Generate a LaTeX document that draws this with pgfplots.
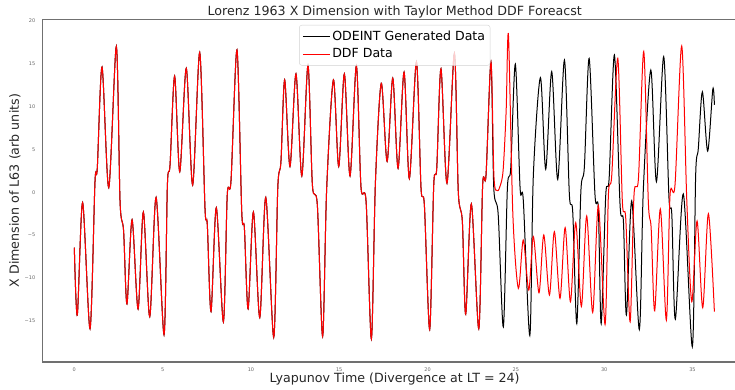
\documentclass[border=0pt]{standalone}
\usepackage{pgfplots}
\pgfplotsset{compat=1.18}
\usepackage{fontspec}
\setmainfont{DejaVu Sans}
\definecolor{spine}{HTML}{707070}
\definecolor{ticklab}{HTML}{666666}
\begin{document}
\begin{tikzpicture}
\begin{axis}[name=ax, scale only axis, width=704bp, height=342.7bp,
 xmin=-1.79, xmax=38.07, ymin=-19.78, ymax=20.16,
 xtick={0,5,...,35}, xticklabels={0,5,10,15,20,25,30,35},
 ytick={-15,-10,...,20}, yticklabels={−15,−10,−5,0,5,10,15,20},
 major tick length=0pt,
 axis line style={draw=spine, line width=1.1bp},
 tick label style={font=\fontsize{5}{6}\selectfont, text=ticklab},
 xticklabel style={yshift=-2bp},
 yticklabel style={xshift=-4bp},
 title={Lorenz 1963 X Dimension with Taylor Method DDF Foreacst},
 every axis title/.style={at={(axis description cs:0.5,1.0105)}, anchor=base, font=\fontsize{12.7}{14}\selectfont, text=black!85},
 xlabel={Lyapunov Time (Divergence at LT = 24)},
 xlabel style={at={(axis description cs:0.5,-0.0598)}, anchor=base, font=\fontsize{12.7}{14}\selectfont, text=black!85},
 ylabel={X Dimension of L63 (arb units)},
 ylabel style={at={(axis description cs:-0.034,0.5)}, anchor=base, font=\fontsize{12.7}{14}\selectfont, text=black!85},
 legend style={at={(axis description cs:0.5,0.9834)}, anchor=north, draw=gray!35, rounded corners=2.5bp, fill=white, fill opacity=0.8, text opacity=1, font=\fontsize{12.6}{15}\selectfont, inner xsep=3bp, inner ysep=4bp, row sep=2.5bp},
 legend cell align=left,
 legend image code/.code={\draw[#1] (0bp,0bp) -- (27bp,0bp);},
]
\addplot[black, line width=1bp, smooth] coordinates {
(0,-6.46) (0.17,-14.3) (0.47,-1.2) (0.89,-15.9) (1.17,1.2) (1.30,2.8) (1.57,14.6) (1.95,0.54) (2.38,17.0) (2.59,-1.1) (2.79,-4.5) (2.98,-13.0) (3.27,-3.2) (3.61,-13.6) (3.91,-2.3) (4.27,-14.5) (4.63,-0.6) (5.08,-16.6) (5.27,0.85) (5.42,3.2) (5.68,13.55) (5.97,2.4) (6.34,14.45) (6.70,0.85) (7.10,16.3) (7.40,-1.9) (7.53,-3.8) (7.74,-13.9) (8.04,-1.8) (8.44,-15.1) (8.66,-0.3) (8.87,1.3) (9.21,16.6) (9.48,-2.3) (9.63,-4.2) (9.84,-13.6) (10.14,-2.3) (10.50,-14.6) (10.84,-0.6) (11.29,-16.9) (11.52,0.5) (11.70,3.6) (11.91,13.1) (12.21,3.0) (12.55,13.8) (12.88,1.9) (13.23,14.8) (13.48,0.85) (13.76,-1.5) (14.06,-16.8) (14.29,0.5) (14.67,13.1) (14.97,3.0) (15.29,13.8) (15.61,1.9) (15.97,14.75) (16.23,0.65) (16.52,-1.1) (16.82,-17.1) (17.05,1.25) (17.38,12.7) (17.71,3.6) (18.03,13.3) (18.33,2.8) (18.67,14.0) (18.97,1.6) (19.37,15.2) (19.63,0.5) (19.82,-1.5) (20.12,-16.0) (20.35,0.85) (20.52,2.8) (20.76,14.4) (21.10,1.05) (21.52,16.2) (21.74,0.07) (21.97,-3.4) (22.16,-14.2) (22.48,-1.36) (22.90,-15.9) (23.12,0.85) (23.31,2.0) (23.59,15.2)
(23.75,0.5) (24.0,-2.6) (24.29,-15.7) (24.52,0.47) (24.71,2.8) (24.97,14.95) (25.24,0.47) (25.42,-0.9) (25.79,-16.7) (25.99,2.0) (26.39,13.36) (26.69,2.7) (27.03,14.06) (27.37,1.5) (27.75,15.4) (28.03,-0.3) (28.22,-2.3) (28.45,-15.3) (28.68,0.07) (28.88,3.0) (29.15,15.6) (29.48,-0.3) (29.67,-1.9) (29.83,-15.3) (30.09,-0.3) (30.28,1.6) (30.58,16.0) (30.90,-1.5) (31.09,-3.4) (31.26,-14.3) (31.56,-1.0) (31.99,-16.0) (32.22,0.47) (32.64,14.25) (32.96,1.24) (33.37,15.8) (33.67,-0.7) (33.83,-2.6) (34.03,-14.8) (34.48,-0.2) (34.99,-18.0) (35.18,2.0) (35.33,5.1) (35.56,11.7) (35.86,4.8) (36.15,12.0) (36.24,10.2)
};
\addlegendentry{ODEINT Generated Data}
\addplot[red, line width=1bp, smooth] coordinates {
(0,-6.46) (0.17,-14.3) (0.47,-1.2) (0.89,-15.9) (1.17,1.2) (1.30,2.8) (1.57,14.6) (1.95,0.54) (2.38,17.0) (2.59,-1.1) (2.79,-4.5) (2.98,-13.0) (3.27,-3.2) (3.61,-13.6) (3.91,-2.3) (4.27,-14.5) (4.63,-0.6) (5.08,-16.6) (5.27,0.85) (5.42,3.2) (5.68,13.55) (5.97,2.4) (6.34,14.45) (6.70,0.85) (7.10,16.3) (7.40,-1.9) (7.53,-3.8) (7.74,-13.9) (8.04,-1.8) (8.44,-15.1) (8.66,-0.3) (8.87,1.3) (9.21,16.6) (9.48,-2.3) (9.63,-4.2) (9.84,-13.6) (10.14,-2.3) (10.50,-14.6) (10.84,-0.6) (11.29,-16.9) (11.52,0.5) (11.70,3.6) (11.91,13.1) (12.21,3.0) (12.55,13.8) (12.88,1.9) (13.23,14.8) (13.48,0.85) (13.76,-1.5) (14.06,-16.8) (14.29,0.5) (14.67,13.1) (14.97,3.0) (15.29,13.8) (15.61,1.9) (15.97,14.75) (16.23,0.65) (16.52,-1.1) (16.82,-17.1) (17.05,1.25) (17.38,12.7) (17.71,3.6) (18.03,13.3) (18.33,2.8) (18.67,14.0) (18.97,1.6) (19.37,15.2) (19.63,0.5) (19.82,-1.5) (20.12,-16.0) (20.35,0.85) (20.52,2.8) (20.76,14.4) (21.10,1.05) (21.52,16.2) (21.74,0.07) (21.97,-3.4) (22.16,-14.2) (22.48,-1.36) (22.90,-15.9) (23.12,0.85) (23.31,2.0) (23.59,15.2)
(23.76,1.8) (23.95,0.2) (24.12,0.8) (24.28,2.6) (24.45,9.5) (24.58,18.3) (24.83,-2.6) (25.14,-11.2) (25.42,-5.56) (25.73,-11.4) (25.99,-5.17) (26.31,-11.7) (26.58,-4.98) (26.90,-11.97) (27.18,-4.59) (27.50,-12.36) (27.79,-4.12) (28.09,-12.75) (28.39,-3.54) (28.71,-13.3) (29.01,-2.77) (29.35,-14.0) (29.67,-1.56) (30.05,-15.4) (30.24,-0.3) (30.43,2.0) (30.77,15.6) (31.03,-1.1) (31.22,-3.0) (31.47,-15.1) (31.69,-0.3) (31.94,1.6) (32.24,16.4) (32.50,-1.1) (32.66,-4.2) (32.86,-13.8) (33.18,-1.95) (33.52,-14.9) (33.73,-0.3) (34.01,0.85) (34.39,17.05) (34.68,-1.1) (34.96,-12.75) (35.26,-3.35) (35.58,-13.45) (35.90,-2.5) (36.24,-13.9)
};
\addlegendentry{DDF Data}
\end{axis}
\pgfresetboundingbox
\path ([xshift=-42.7bp,yshift=-28bp]ax.south west) rectangle ([xshift=-11.7bp,yshift=19.3bp]ax.north east);
\end{tikzpicture}
\end{document}
